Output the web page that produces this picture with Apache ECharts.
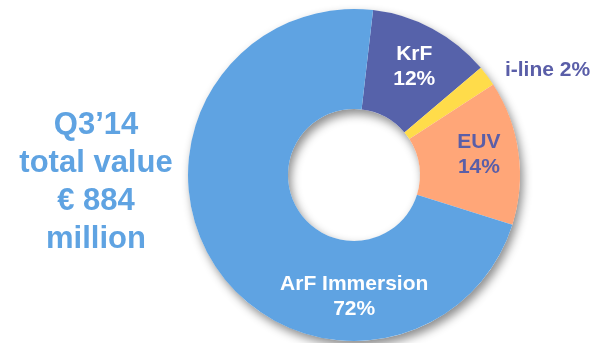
<!DOCTYPE html>
<html>
<head>
<meta charset="utf-8">
<script src="https://cdn.jsdelivr.net/npm/echarts@6/dist/echarts.min.js"></script>
<style>
html,body{margin:0;padding:0;background:#fff;}
#c{width:591px;height:343px;}
</style>
</head>
<body>
<div id="c"></div>
<script>
const categories = ['KrF', 'i-line', 'EUV', 'ArF Immersion'];
const shares = [12, 2, 14, 72];
const colors = ['#5662AA', '#FFDC4A', '#FFA678', '#5FA3E2'];
const titleLines = ['Q3\u201914', 'total value', '\u20ac 884', 'million'];

const labelCfg = {
  'KrF': { offset: [4, -3], color: '#ffffff', inline: false },
  'i-line': { offset: [98, -34], color: '#5A5EA8', inline: true },
  'EUV': { offset: [7, -4], color: '#5A5EA8', inline: false },
  'ArF Immersion': { offset: [100, 57], color: '#ffffff', inline: false }
};

const chart = echarts.init(document.getElementById('c'));
const center = [354, 175];
const radius = [66, 166];

chart.setOption({
  animation: false,
  backgroundColor: '#ffffff',
  graphic: [{
    type: 'text',
    x: 96,
    y: 182,
    style: {
      text: titleLines.join('\n'),
      fill: '#5FA3E2',
      font: 'bold 31px "Liberation Sans", Arial, sans-serif',
      lineHeight: 38,
      align: 'center',
      verticalAlign: 'middle'
    }
  }],
  series: [
    {
      type: 'pie',
      silent: true,
      center: center,
      radius: radius,
      startAngle: 83.4,
      label: { show: false },
      labelLine: { show: false },
      data: [{
        value: 1,
        itemStyle: {
          color: '#ffffff',
          shadowBlur: 10,
          shadowColor: 'rgba(0,0,0,0.45)',
          shadowOffsetX: 3,
          shadowOffsetY: 5
        }
      }]
    },
    {
      type: 'pie',
      center: center,
      radius: radius,
      startAngle: 83.4,
      clockwise: true,
      avoidLabelOverlap: false,
      labelLine: { show: false },
      data: categories.map((name, i) => {
        const cfg = labelCfg[name];
        return {
          name: name,
          value: shares[i],
          itemStyle: { color: colors[i] },
          label: {
            show: true,
            position: 'inside',
            offset: cfg.offset,
            color: cfg.color,
            fontFamily: '"Liberation Sans", Arial, sans-serif',
            fontWeight: 'bold',
            fontSize: 21,
            lineHeight: 25,
            align: 'center',
            formatter: cfg.inline ? '{b} {c}%' : '{b}\n{c}%'
          }
        };
      })
    }
  ]
});
</script>
</body>
</html>
